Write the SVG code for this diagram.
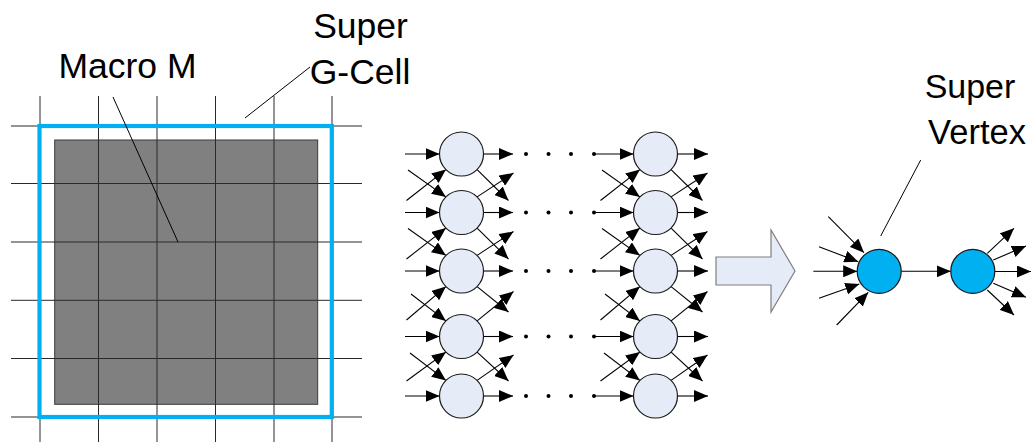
<svg xmlns="http://www.w3.org/2000/svg" width="1032" height="442" viewBox="0 0 1032 442">
<style>
.t{font-family:"Liberation Sans",Arial,sans-serif;font-size:35.5px;fill:#000}
.g{stroke:#2a2a2a;stroke-width:1;fill:none}
.ld{stroke:#000;stroke-width:1;fill:none}
.c{stroke:#000;stroke-width:1.1;fill:none;marker-end:url(#ah)}
.n{fill:#E6ECF7;stroke:#1a1a1a;stroke-width:1.2}
.sv{fill:#00B0F0;stroke:#1a1a1a;stroke-width:1.2}
.d{fill:#000}
</style>
<defs>
<marker id="ah" markerUnits="userSpaceOnUse" markerWidth="14" markerHeight="12" refX="14" refY="6" orient="auto">
<path d="M0,0 L14,6 L0,12 z" fill="#000"/>
</marker>
</defs>
<rect width="1032" height="442" fill="#fff"/>

<g id="macro-grid">
<rect x="54.7" y="140" width="263" height="264.3" fill="#808080" stroke="#3a3a3a" stroke-width="1"/>
<path class="g" d="M40,96V442M98.5,96V442M157,96V442M215.5,96V442M274,96V442M332,96V442M11,126H362M11,183.5H362M11,242H362M11,300.3H362M11,358.5H362M11,417H362"/>
<rect x="39.5" y="126" width="292.3" height="291" fill="none" stroke="#00B0F0" stroke-width="4.2"/>
</g>

<g id="labels">
<text class="t" x="127.5" y="78" text-anchor="middle">Macro M</text>
<text class="t" x="360.5" y="37.5" text-anchor="middle">Super</text>
<text class="t" x="360" y="83.5" text-anchor="middle">G-Cell</text>
<text class="t" x="970" y="97.5" text-anchor="middle" style="font-size:34px">Super</text>
<text class="t" x="977" y="144" text-anchor="middle" style="font-size:34.5px">Vertex</text>
<path class="ld" d="M113,97L178,242M245,118L310,67M920.7,160L880.7,236"/>
</g>

<g id="dots">
<circle class="d" cx="526" cy="154" r="2"/><circle class="d" cx="548.5" cy="154" r="2"/><circle class="d" cx="571" cy="154" r="2"/><circle class="d" cx="594" cy="154" r="2"/>
<circle class="d" cx="526" cy="212.5" r="2"/><circle class="d" cx="548.5" cy="212.5" r="2"/><circle class="d" cx="571" cy="212.5" r="2"/><circle class="d" cx="594" cy="212.5" r="2"/>
<circle class="d" cx="526" cy="271" r="2"/><circle class="d" cx="548.5" cy="271" r="2"/><circle class="d" cx="571" cy="271" r="2"/><circle class="d" cx="594" cy="271" r="2"/>
<circle class="d" cx="526" cy="336.5" r="2"/><circle class="d" cx="548.5" cy="336.5" r="2"/><circle class="d" cx="571" cy="336.5" r="2"/><circle class="d" cx="594" cy="336.5" r="2"/>
<circle class="d" cx="526" cy="396" r="2"/><circle class="d" cx="548.5" cy="396" r="2"/><circle class="d" cx="571" cy="396" r="2"/><circle class="d" cx="594" cy="396" r="2"/>
</g>

<g id="connectors">
<path class="c" d="M405,154H439.5"/><path class="c" d="M483.5,154H513"/>
<path class="c" d="M405,212.5H439.5"/><path class="c" d="M483.5,212.5H513"/>
<path class="c" d="M405,271H439.5"/><path class="c" d="M483.5,271H513"/>
<path class="c" d="M405,336.5H439.5"/><path class="c" d="M483.5,336.5H513"/>
<path class="c" d="M405,396H439.5"/><path class="c" d="M483.5,396H513"/>
<path class="c" d="M406.5,200.5L445.9,169.6"/><path class="c" d="M408,170L445.9,196.9"/>
<path class="c" d="M477.1,169.6L508.5,200.5"/><path class="c" d="M477.1,196.9L513.5,173"/>
<path class="c" d="M406.5,259L445.9,228.1"/><path class="c" d="M408,228.5L445.9,255.4"/>
<path class="c" d="M477.1,228.1L508.5,259"/><path class="c" d="M477.1,255.4L513.5,231.5"/>
<path class="c" d="M406.5,320L445.9,286.6"/><path class="c" d="M411,294L445.9,320.9"/>
<path class="c" d="M477.1,286.6L508.5,312"/><path class="c" d="M477.1,320.9L513.5,291.5"/>
<path class="c" d="M406.5,381L445.9,352.1"/><path class="c" d="M410,353L445.9,380.4"/>
<path class="c" d="M477.1,352.1L508.5,381"/><path class="c" d="M477.1,380.4L513.5,355"/>
<path class="c" d="M594,154H633.5"/><path class="c" d="M677.5,154H708"/>
<path class="c" d="M594,212.5H633.5"/><path class="c" d="M677.5,212.5H708"/>
<path class="c" d="M594,271H633.5"/><path class="c" d="M677.5,271H708"/>
<path class="c" d="M594,336.5H633.5"/><path class="c" d="M677.5,336.5H708"/>
<path class="c" d="M594,396H633.5"/><path class="c" d="M677.5,396H708"/>
<path class="c" d="M600.5,200.5L639.9,169.6"/><path class="c" d="M602,170L639.9,196.9"/>
<path class="c" d="M671.1,169.6L702.5,200.5"/><path class="c" d="M671.1,196.9L707.5,173"/>
<path class="c" d="M600.5,259L639.9,228.1"/><path class="c" d="M602,228.5L639.9,255.4"/>
<path class="c" d="M671.1,228.1L702.5,259"/><path class="c" d="M671.1,255.4L707.5,231.5"/>
<path class="c" d="M600.5,320L639.9,286.6"/><path class="c" d="M605,294L639.9,320.9"/>
<path class="c" d="M671.1,286.6L702.5,312"/><path class="c" d="M671.1,320.9L707.5,291.5"/>
<path class="c" d="M600.5,381L639.9,352.1"/><path class="c" d="M604,353L639.9,380.4"/>
<path class="c" d="M671.1,352.1L702.5,381"/><path class="c" d="M671.1,380.4L707.5,355"/>
<path class="c" d="M828.3,216.7L864,252.7"/>
<path class="c" d="M819,246.7L858.3,261.7"/>
<path class="c" d="M813.3,271.3H857.2"/>
<path class="c" d="M819,298.3L859.3,284"/>
<path class="c" d="M836.7,325L868.3,292.3"/>
<path class="c" d="M901.2,271.3H950.8"/>
<path class="c" d="M987.3,253.3L1014,228.3"/>
<path class="c" d="M993.3,260L1026,246"/>
<path class="c" d="M994.8,271.5H1031"/>
<path class="c" d="M993.3,283.3L1026,297.3"/>
<path class="c" d="M987.3,290L1014,315"/>
</g>

<g id="left-nodes">
<g id="L1"><circle class="n" cx="461.5" cy="154" r="22"/></g>
<g id="L2"><circle class="n" cx="461.5" cy="212.5" r="22"/></g>
<g id="L3"><circle class="n" cx="461.5" cy="271" r="22"/></g>
<g id="L4"><circle class="n" cx="461.5" cy="336.5" r="22"/></g>
<g id="L5"><circle class="n" cx="461.5" cy="396" r="22"/></g>
</g>
<g id="right-nodes">
<g id="R1"><circle class="n" cx="655.5" cy="154" r="22"/></g>
<g id="R2"><circle class="n" cx="655.5" cy="212.5" r="22"/></g>
<g id="R3"><circle class="n" cx="655.5" cy="271" r="22"/></g>
<g id="R4"><circle class="n" cx="655.5" cy="336.5" r="22"/></g>
<g id="R5"><circle class="n" cx="655.5" cy="396" r="22"/></g>
</g>

<g id="block-arrow">
<polygon points="716,257 771,257 771,230 795,271 771,312 771,285 716,285" fill="#E6ECF7" stroke="#7f7f7f" stroke-width="1.2"/>
</g>

<g id="super-vertex"><circle class="sv" cx="879.2" cy="271.3" r="22"/></g>
<g id="vertex-2"><circle class="sv" cx="972.8" cy="271.3" r="22"/></g>
</svg>
